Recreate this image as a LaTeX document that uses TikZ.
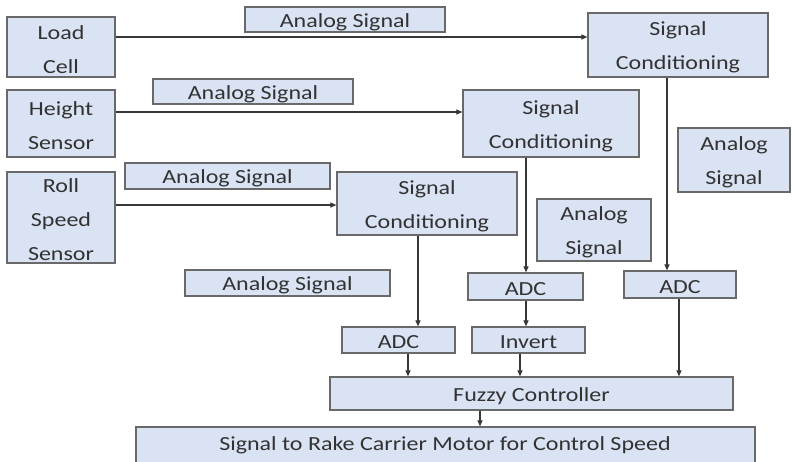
\documentclass[tikz,border=0pt]{standalone}
\usepackage{fontspec}
\setmainfont{Carlito}[FakeStretch=1.2]
\usetikzlibrary{arrows.meta}
\definecolor{boxfill}{RGB}{218,227,243}
\definecolor{boxline}{RGB}{105,105,105}
\definecolor{txt}{RGB}{50,50,50}
\definecolor{wire}{RGB}{55,55,55}
\tikzset{
  box/.style={draw=boxline, fill=boxfill, line width=1.2pt, inner sep=0pt},
  lbl/.style={text=txt, inner sep=0pt, align=center, font=\fontsize{20}{34}\selectfont},
  arr/.style={draw=wire, line width=1.1pt, -{Triangle[length=6pt,width=5pt]}},
}
\newcommand\mkbox[6]{%
  \node[box, minimum width={#4-#2}, minimum height={#5-#3}] (#1)
    at ({(#2+#4)/2},{(#3+#5)/2}) {};
  \node[lbl] (#1-t) at ([yshift=-2.5pt]#1.center) {#6};}
\begin{document}
\begin{tikzpicture}[x=1pt,y=-1pt]
\clip (0,0) rectangle (793,462);
\fill[white] (0,0) rectangle (793,462);
% sources
\mkbox{load}{7}{17}{115}{77}{\fontsize{20}{37}\selectfont Load\\Cell}
\mkbox{height}{7}{90}{115}{157}{Height\\Sensor}
\mkbox{roll}{7}{172}{115}{263}{Roll\\Speed\\Sensor}
% analog signal labels
\mkbox{as1}{245}{7}{445}{32}{Analog Signal}
\mkbox{as2}{153}{79}{353}{104}{Analog Signal}
\mkbox{as3}{125}{163}{330}{189}{Analog Signal}
\mkbox{as4}{185}{270}{390}{296}{Analog Signal}
\mkbox{as5}{678}{128}{790}{192}{Analog\\Signal}
\mkbox{as6}{537}{199}{651}{261}{Analog\\Signal}
% conditioning
\mkbox{sc1}{588}{13}{768}{77}{Signal\\Conditioning}
\mkbox{sc2}{463}{90}{639}{157}{Signal\\Conditioning}
\mkbox{sc3}{337}{172}{517}{235}{Signal\\Conditioning}
% ADC / invert
\mkbox{adcM}{468}{273}{583}{300}{ADC}
\mkbox{adcR}{624}{271}{736}{298}{ADC}
\mkbox{adcL}{342}{327}{455}{353}{ADC}
\mkbox{invert}{472}{327}{585}{353}{Invert}
% controller and output
\mkbox{fuzzy}{330}{377}{733}{410}{Fuzzy Controller}
\node[box, minimum width=619, minimum height=53] (motor) at (445.5,453.5) {};
\node[lbl] (motortxt) at (445,445) {Signal to Rake Carrier Motor for Control Speed};
% helper coordinates
\coordinate (yA) at (0,37);
\coordinate (yB) at (0,112);
\coordinate (yC) at (0,205);
\coordinate (xA) at (667,0);
\coordinate (xB) at (526,0);
\coordinate (xC) at (418,0);
\coordinate (xD) at (408,0);
\coordinate (xE) at (520,0);
\coordinate (xF) at (679,0);
\coordinate (xG) at (480,0);
% connectors
\draw[arr] (load.east |- yA) -- (sc1.west |- yA);
\draw[arr] (height.east |- yB) -- (sc2.west |- yB);
\draw[arr] (roll.east |- yC) -- (sc3.west |- yC);
\draw[arr] (sc1.south -| xA) -- (adcR.north -| xA);
\draw[arr] (sc2.south -| xB) -- (adcM.north -| xB);
\draw[arr] (sc3.south -| xC) -- (adcL.north -| xC);
\draw[arr] (adcM.south -| xB) -- (invert.north -| xB);
\draw[arr] (adcL.south -| xD) -- (fuzzy.north -| xD);
\draw[arr] (invert.south -| xE) -- (fuzzy.north -| xE);
\draw[arr] (adcR.south -| xF) -- (fuzzy.north -| xF);
\draw[arr] (fuzzy.south -| xG) -- (motor.north -| xG);
\end{tikzpicture}
\end{document}
